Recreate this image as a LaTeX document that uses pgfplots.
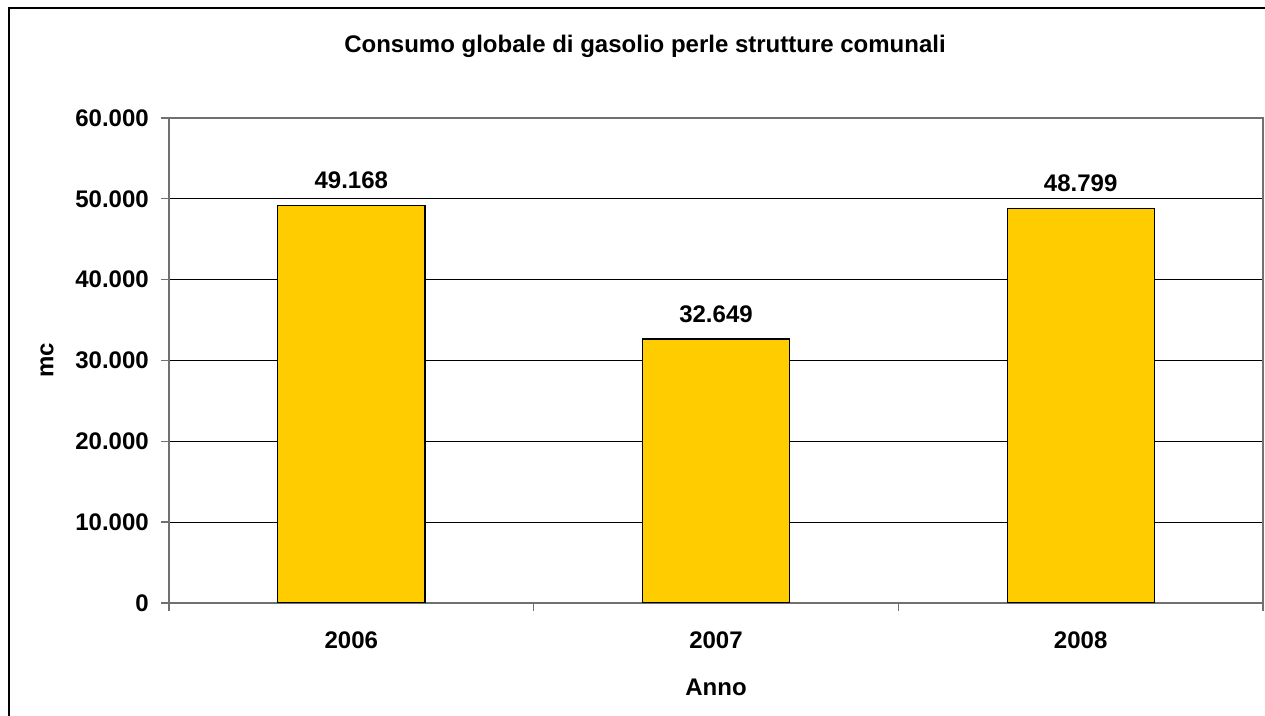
\documentclass[border=0pt]{standalone}
\usepackage{pgfplots}
\pgfplotsset{compat=1.18}
\usepackage{fontspec}
\setmainfont{Liberation Sans}
\definecolor{barfill}{HTML}{FFCC00}
\definecolor{axgray}{HTML}{707070}
\begin{document}
\begin{tikzpicture}
\fontsize{18}{21}\selectfont\bfseries
\useasboundingbox (0,0) rectangle (948.75pt,537pt);
% outer chart frame (left and top edges visible)
\draw[black, line width=1.5pt] (6.75pt,-2pt) -- (6.75pt,531pt) -- (952pt,531pt);
\node[anchor=base] at (483.75pt,497.25pt) {Consumo globale di gasolio perle strutture comunali};
\begin{axis}[
    at={(126.75pt,84.75pt)},
    anchor=south west,
    scale only axis,
    width=820.5pt,
    height=363.75pt,
    ybar,
    bar width=110.25pt,
    bar shift=0pt,
    xmin=-0.5, xmax=2.5,
    ymin=0, ymax=60000,
    xtick={0,1,2},
    xticklabels={2006,2007,2008},
    minor xtick={-0.5,0.5,1.5,2.5},
    major x tick style={draw=none},
    minor x tick style={axgray, line width=1pt},
    ytick={0,10000,20000,30000,40000,50000,60000},
    yticklabels={0,10.000,20.000,30.000,40.000,50.000,60.000},
    scaled y ticks=false,
    major y tick style={axgray, line width=1pt},
    xtick pos=bottom,
    ytick pos=left,
    tick align=outside,
    major tick length=6pt,
    minor tick length=6pt,
    ymajorgrids,
    grid style={black, line width=0.75pt},
    axis line style={axgray, line width=1.2pt},
    tick label style={font=\fontsize{18}{21}\selectfont\bfseries},
    yticklabel style={xshift=-3pt},
    xticklabel style={yshift=-9pt},
    /pgf/number format/1000 sep={.},
    /pgf/number format/assume math mode=true,
    nodes near coords,
    nodes near coords style={font=\fontsize{18}{21}\selectfont\bfseries, anchor=south, yshift=6pt},
    xlabel={Anno},
    ylabel={mc},
    xlabel style={at={(axis description cs:0.5,-0.173)}, anchor=center},
    ylabel style={at={(axis description cs:-0.1115,0.5)}, anchor=center, rotate=0},
    label style={font=\fontsize{18}{21}\selectfont\bfseries},
]
\addplot[fill=barfill, draw=black, line width=1pt] coordinates {(0,49168) (1,32649) (2,48799)};
\end{axis}
\end{tikzpicture}
\end{document}
